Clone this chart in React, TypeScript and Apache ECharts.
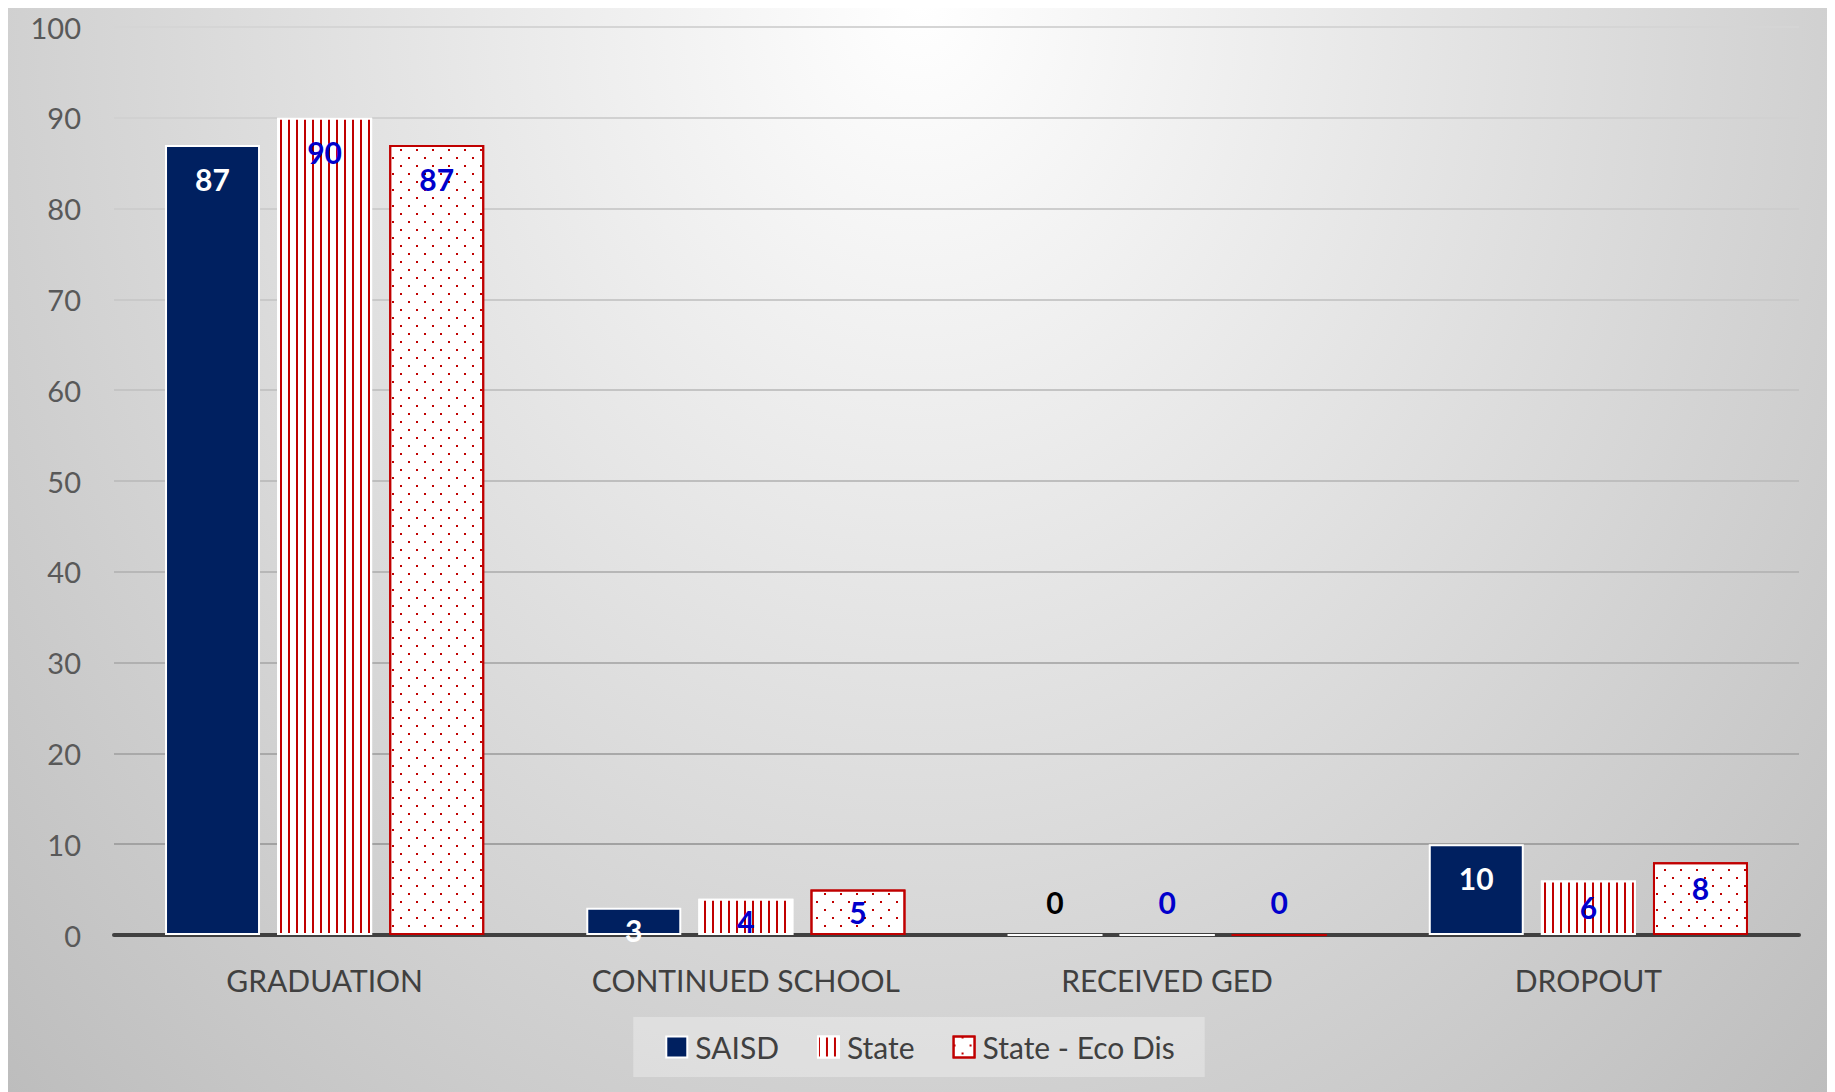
import React, { useEffect, useRef } from "react";
import * as echarts from "echarts";

const categories = ["GRADUATION", "CONTINUED SCHOOL", "RECEIVED GED", "DROPOUT"];
const seriesNames = ["SAISD", "State", "State - Eco Dis"];
const saisdValues = [87, 3, 0, 10];
const stateValues = [90, 4, 0, 6];
const stateEcoValues = [87, 5, 0, 8];
const yTicks = { min: 0, max: 100, interval: 10 };

const NAVY = "#002060";
const RED = "#C00000";
const BLUE = "#0000CC";
const FONT = "Lato";

// gridline colours, bottom (0) to top (100): darker toward the bottom
const gridColors = [
  "#9c9c9c", "#a2a2a2", "#a9a9a9", "#b0b0b0", "#b7b7b7", "#bebebe",
  "#c4c4c4", "#c9c9c9", "#cdcdcd", "#d1d1d1", "#d5d5d5",
];

function labelDistance(v: number) {
  return v >= 10 ? 19 : v >= 6 ? 11 : 7;
}

function buildData(values: number[], zeroColor: string) {
  return values.map((v) =>
    v === 0
      ? { value: v, label: { position: "top", distance: 17, color: zeroColor } }
      : { value: v, label: { position: "insideTop", distance: labelDistance(v) } }
  );
}

export default function App() {
  const ref = useRef<HTMLDivElement>(null);

  useEffect(() => {
    if (!ref.current) return;
    const chart = echarts.init(ref.current, null, { renderer: "svg" });

    const labelBase = {
      show: true,
      fontFamily: FONT,
      fontSize: 30,
      fontWeight: "bold",
    };

    chart.setOption({
      animation: false,
      textStyle: { fontFamily: FONT },
      grid: { left: 106, top: 22, width: 1685, height: 908, containLabel: false },
      legend: {
        data: seriesNames,
        left: "center",
        top: 1012,
        icon: "rect",
        itemWidth: 21,
        itemHeight: 21,
        itemGap: 38,
        padding: [15, 30, 15, 32],
        backgroundColor: "rgba(255,255,255,0.3)",
        textStyle: {
          fontFamily: FONT,
          fontSize: 30,
          color: "#404040",
          padding: [0, 0, 0, 3],
        },
      },
      xAxis: {
        type: "category",
        data: categories,
        axisTick: { show: false },
        axisLine: { lineStyle: { color: "#404040", width: 4 } },
        axisLabel: {
          fontFamily: FONT,
          fontSize: 30,
          color: "#404040",
          margin: 30,
        },
        splitLine: { show: false },
      },
      yAxis: {
        type: "value",
        min: yTicks.min,
        max: yTicks.max,
        interval: yTicks.interval,
        axisLine: { show: false },
        axisTick: { show: false },
        axisLabel: {
          fontFamily: FONT,
          fontSize: 29,
          color: "#595959",
          margin: 33,
        },
        splitLine: { lineStyle: { color: gridColors, width: 2 } },
      },
      series: [
        {
          name: seriesNames[0],
          type: "bar",
          barWidth: 95,
          barGap: "18%",
          itemStyle: { color: NAVY, borderColor: "#ffffff", borderWidth: 2 },
          label: { ...labelBase, color: "#ffffff" },
          data: buildData(saisdValues, "#000000"),
        },
        {
          name: seriesNames[1],
          type: "bar",
          barWidth: 95,
          barGap: "18%",
          itemStyle: {
            color: "#ffffff",
            borderColor: "#ffffff",
            borderWidth: 2,
            decal: {
              symbol: "rect",
              symbolSize: 1,
              color: RED,
              dashArrayX: [2, 6],
              dashArrayY: [1, 0],
            },
          },
          label: { ...labelBase, color: BLUE },
          data: buildData(stateValues, BLUE),
        },
        {
          name: seriesNames[2],
          type: "bar",
          barWidth: 95,
          barGap: "18%",
          itemStyle: {
            color: "#ffffff",
            borderColor: RED,
            borderWidth: 2,
            decal: {
              symbol: "rect",
              symbolSize: 1,
              color: RED,
              dashArrayX: [
                [2, 14],
                [0, 8, 2, 6],
              ],
              dashArrayY: [2, 6],
            },
          },
          label: { ...labelBase, color: BLUE },
          data: buildData(stateEcoValues, BLUE),
        },
      ],
    });

    return () => chart.dispose();
  }, []);

  return (
    <div
      ref={ref}
      style={{
        width: 1824,
        height: 1087,
        marginTop: -3,
        background:
          "radial-gradient(ellipse farthest-corner at 50% 0%, #ffffff 0%, #bdbdbd 100%)",
      }}
    />
  );
}
